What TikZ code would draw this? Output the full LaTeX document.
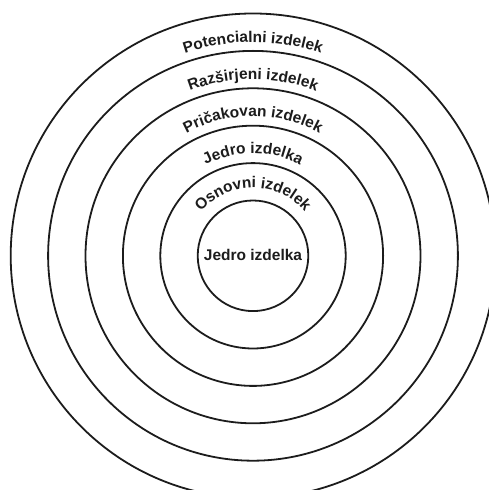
\documentclass[tikz,border=0pt]{standalone}
\usepackage{fontspec}
\setmainfont{Liberation Sans}
\usetikzlibrary{decorations.text}
\definecolor{ringInk}{HTML}{1C1C1C}
\newcommand{\ringfont}{\fontsize{15.5}{18}\selectfont\bfseries}
\tikzset{
  ring/.style={draw=ringInk,line width=1.8pt},
  arclabel/.style={decorate,decoration={text along path,text align=center,
    text color=ringInk,text={|\ringfont|#1}}}
}
\begin{document}
\begin{tikzpicture}[x=1pt,y=1pt]
  \useasboundingbox (0,0) rectangle (489,490);
  \clip (0,0) rectangle (489,490);
  \coordinate (core) at (253,234.2);

  % six rings, innermost first
  \draw[ring] (core) circle[radius=55.3];
  \draw[ring] (core) circle[radius=92.7];
  \draw[ring] (core) circle[radius=130.1];
  \draw[ring] (core) circle[radius=167.5];
  \draw[ring] (core) circle[radius=204.9];
  \draw[ring] (core) circle[radius=242.3];

  \node[font=\ringfont,text=ringInk,inner sep=0pt] (kernel) at ([yshift=1]core) {Jedro izdelka};

  % labels set on arcs just above each ring
  \path[arclabel={Osnovni izdelek}] ([shift={(175:68)}]core)
       arc[start angle=175,end angle=5,radius=68];
  \path[arclabel={Jedro izdelka}] ([shift={(170:102.5)}]core)
       arc[start angle=170,end angle=10,radius=102.5];
  \path[arclabel={Pričakovan izdelek}] ([shift={(170:139.5)}]core)
       arc[start angle=170,end angle=10,radius=139.5];
  \path[arclabel={Razširjeni izdelek}] ([shift={(170:176.5)}]core)
       arc[start angle=170,end angle=10,radius=176.5];
  \path[arclabel={Potencialni izdelek}] ([shift={(170:213.5)}]core)
       arc[start angle=170,end angle=10,radius=213.5];
\end{tikzpicture}
\end{document}
